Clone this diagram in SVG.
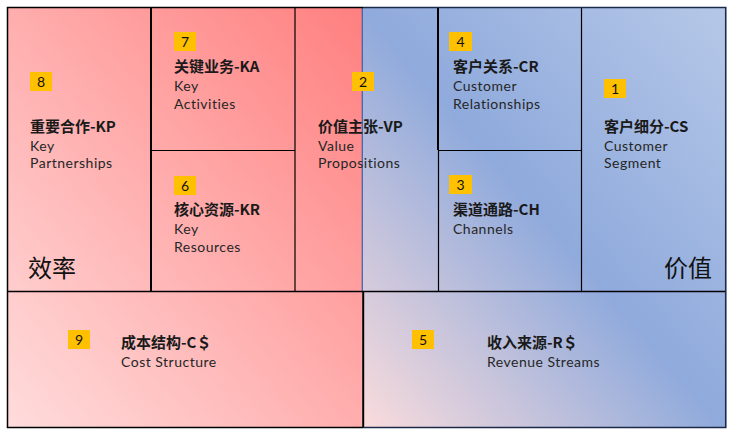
<svg xmlns="http://www.w3.org/2000/svg" width="738" height="434" viewBox="0 0 738 434">
<defs>
<linearGradient id="gRed" x1="0" y1="1" x2="1" y2="0">
<stop offset="0" stop-color="#ffdcdc"/>
<stop offset="1" stop-color="#ff7f7f"/>
</linearGradient>
<linearGradient id="gBlue" x1="0" y1="1" x2="1" y2="0">
<stop offset="0" stop-color="#fadcdc"/>
<stop offset="0.5" stop-color="#8faadc"/>
<stop offset="1" stop-color="#b6c8e8"/>
</linearGradient>
<style>
.h{font-family:"Noto Sans CJK SC","Noto Sans",sans-serif;font-size:15px;font-weight:bold;fill:#1a1a1a}
.e{font-family:Lato,"Noto Sans",sans-serif;font-size:14px;letter-spacing:0.5px;fill:#262626}
.big{font-family:"Noto Sans CJK SC",sans-serif;font-size:24px;fill:#111}
.nb{fill:#ffc000}
.nt{font-family:Lato,"Noto Sans",sans-serif;font-size:14px;fill:#111;text-anchor:middle}
.ln{stroke:#000;fill:none}
</style>
</defs>
<g id="background">
<rect x="7" y="7" width="355.5" height="421" fill="url(#gRed)"/>
<rect x="362.5" y="7" width="364" height="421" fill="url(#gBlue)"/>
</g>
<g id="connectors">
<line class="ln" x1="151" y1="7" x2="151" y2="291" stroke-width="2"/>
<line class="ln" x1="295" y1="7" x2="295" y2="291" stroke-width="1.2"/>
<line x1="362.3" y1="7" x2="362.3" y2="291" stroke="#3a5fa8" stroke-width="1.2"/>
<line class="ln" x1="438" y1="7" x2="438" y2="150" stroke-width="2"/>
<line class="ln" x1="438.5" y1="150" x2="438.5" y2="291" stroke-width="1.2"/>
<line class="ln" x1="581.5" y1="7" x2="581.5" y2="291" stroke-width="1.2"/>
<line class="ln" x1="151" y1="150.5" x2="295" y2="150.5" stroke-width="1.2"/>
<line class="ln" x1="438" y1="150.5" x2="581.5" y2="150.5" stroke-width="1.2"/>
<line class="ln" x1="7" y1="291.5" x2="726" y2="291.5" stroke-width="1.5"/>
<line class="ln" x1="363.2" y1="291" x2="363.2" y2="427.5" stroke-width="2"/>
<path d="M363 7.5 H7.5 V427.5 H363" fill="none" stroke="#000" stroke-width="1.5"/>
<path d="M363 7.5 H725.7 V427.5 H363" fill="none" stroke="#1c2a4a" stroke-width="1.5"/>
</g>
<g id="node-KP">
<rect class="nb" x="30" y="72" width="22" height="19"/>
<text class="nt" x="41" y="87">8</text>
<text class="h" x="30" y="132">重要合作-KP</text>
<text class="e" x="30" y="151">Key</text>
<text class="e" x="30" y="168">Partnerships</text>
<text class="big" x="28" y="277">效率</text>
</g>
<g id="node-KA">
<rect class="nb" x="174" y="32" width="22" height="19"/>
<text class="nt" x="185" y="47">7</text>
<text class="h" x="174" y="72">关键业务-KA</text>
<text class="e" x="174" y="91">Key</text>
<text class="e" x="174" y="109">Activities</text>
</g>
<g id="node-KR">
<rect class="nb" x="174" y="176" width="22" height="19"/>
<text class="nt" x="185" y="191">6</text>
<text class="h" x="174" y="215">核心资源-KR</text>
<text class="e" x="174" y="234">Key</text>
<text class="e" x="174" y="252">Resources</text>
</g>
<g id="node-VP">
<rect class="nb" x="352" y="72" width="22" height="19"/>
<text class="nt" x="363" y="87">2</text>
<text class="h" x="318" y="132">价值主张-VP</text>
<text class="e" x="318" y="151">Value</text>
<text class="e" x="318" y="168">Propositions</text>
</g>
<g id="node-CR">
<rect class="nb" x="449" y="32" width="23" height="19"/>
<text class="nt" x="460.5" y="47">4</text>
<text class="h" x="453" y="72">客户关系-CR</text>
<text class="e" x="453" y="91">Customer</text>
<text class="e" x="453" y="109">Relationships</text>
</g>
<g id="node-CH">
<rect class="nb" x="449" y="175" width="23" height="19"/>
<text class="nt" x="460.5" y="190">3</text>
<text class="h" x="453" y="215">渠道通路-CH</text>
<text class="e" x="453" y="234">Channels</text>
</g>
<g id="node-CS">
<rect class="nb" x="604" y="79" width="22" height="19"/>
<text class="nt" x="615" y="94">1</text>
<text class="h" x="604" y="132">客户细分-CS</text>
<text class="e" x="604" y="151">Customer</text>
<text class="e" x="604" y="168">Segment</text>
<text class="big" x="664" y="277">价值</text>
</g>
<g id="node-CS$">
<rect class="nb" x="68" y="330" width="22" height="19"/>
<text class="nt" x="79" y="345">9</text>
<text class="h" x="121" y="348">成本结构-C＄</text>
<text class="e" x="121" y="367">Cost Structure</text>
</g>
<g id="node-R$">
<rect class="nb" x="412" y="330" width="22" height="19"/>
<text class="nt" x="423" y="345">5</text>
<text class="h" x="487" y="348">收入来源-R＄</text>
<text class="e" x="487" y="367">Revenue Streams</text>
</g>
</svg>
